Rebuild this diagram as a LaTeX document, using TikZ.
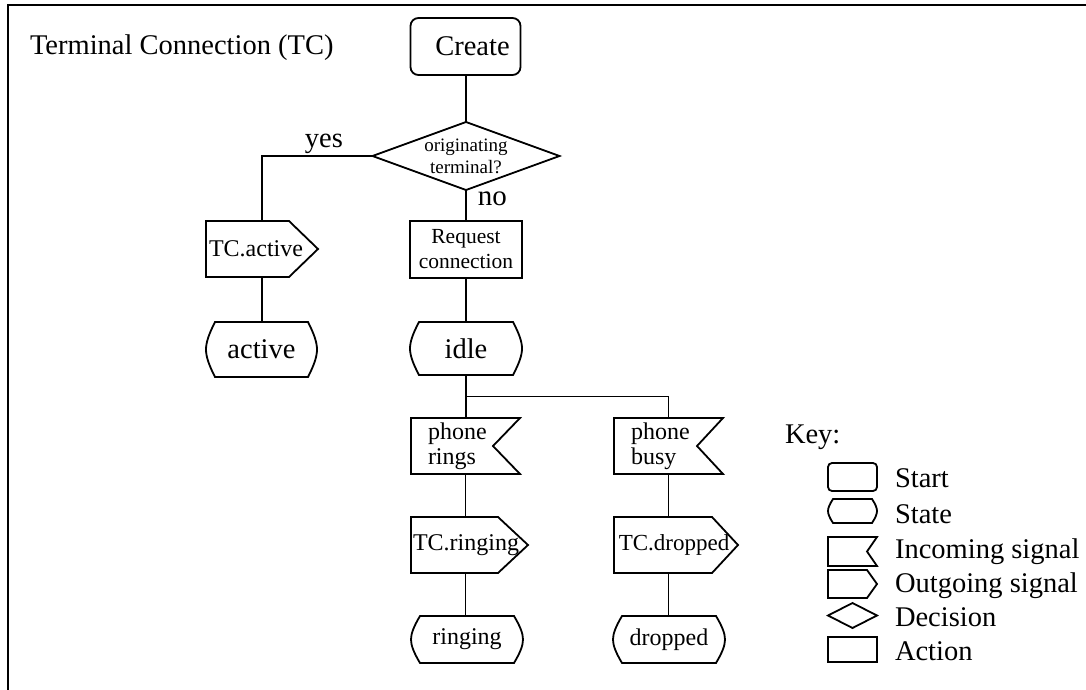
\documentclass[tikz,border=0pt]{standalone}
\usepackage{fontspec}
\setmainfont{Liberation Serif}
\usetikzlibrary{calc}
\tikzset{
  shapeline/.style={line width=1.8pt, line join=miter},
  conn/.style={line width=1.8pt},
  shapebase/.style={inner sep=0pt, outer sep=0pt, align=center},
  txt/.style={inner sep=0pt, outer sep=0pt},
  fbig/.style={font=\fontsize{28.5}{30}\selectfont},
  fmid/.style={font=\fontsize{24}{25}\selectfont},
  fsmall/.style={font=\fontsize{21.5}{25}\selectfont},
  ftiny/.style={font=\fontsize{19}{22}\selectfont},
  startbox/.style={shapebase, draw, shapeline, rounded corners=#1},
  actionbox/.style={shapebase, draw, shapeline},
  decision/.style={shapebase, append after command={\pgfextra{\begin{pgfinterruptpath}
    \draw[shapeline] (\tikzlastnode.north) -- (\tikzlastnode.east) -- (\tikzlastnode.south) -- (\tikzlastnode.west) -- cycle;
    \end{pgfinterruptpath}}}},
  outsig/.style={shapebase, append after command={\pgfextra{\begin{pgfinterruptpath}
    \draw[shapeline] (\tikzlastnode.north west) -- ([xshift=-#1]\tikzlastnode.north east) -- (\tikzlastnode.east) -- ([xshift=-#1]\tikzlastnode.south east) -- (\tikzlastnode.south west) -- cycle;
    \end{pgfinterruptpath}}}},
  insig/.style={shapebase, append after command={\pgfextra{\begin{pgfinterruptpath}
    \draw[shapeline] (\tikzlastnode.north west) -- (\tikzlastnode.north east) -- ([xshift=-#1]\tikzlastnode.east) -- (\tikzlastnode.south east) -- (\tikzlastnode.south west) -- cycle;
    \end{pgfinterruptpath}}}},
  statebox/.style={shapebase, append after command={\pgfextra{\begin{pgfinterruptpath}
    \draw[shapeline] ([xshift=#1]\tikzlastnode.north west) -- ([xshift=-#1]\tikzlastnode.north east)
      .. controls ($(\tikzlastnode.north east)!0.45!(\tikzlastnode.east)+(-0.3*#1,0pt)$) and ($(\tikzlastnode.north east)!0.75!(\tikzlastnode.east)$) .. (\tikzlastnode.east)
      .. controls ($(\tikzlastnode.south east)!0.75!(\tikzlastnode.east)$) and ($(\tikzlastnode.south east)!0.45!(\tikzlastnode.east)+(-0.3*#1,0pt)$) .. ([xshift=-#1]\tikzlastnode.south east)
      -- ([xshift=#1]\tikzlastnode.south west)
      .. controls ($(\tikzlastnode.south west)!0.45!(\tikzlastnode.west)+(0.3*#1,0pt)$) and ($(\tikzlastnode.south west)!0.75!(\tikzlastnode.west)$) .. (\tikzlastnode.west)
      .. controls ($(\tikzlastnode.north west)!0.75!(\tikzlastnode.west)$) and ($(\tikzlastnode.north west)!0.45!(\tikzlastnode.west)+(0.3*#1,0pt)$) .. ([xshift=#1]\tikzlastnode.north west) -- cycle;
    \end{pgfinterruptpath}}}},
}
\begin{document}
\begin{tikzpicture}[x=1pt,y=-1pt]
\useasboundingbox (0,0) rectangle (1086,690);
% frame
\coordinate (fbl) at (8,690);
\coordinate (ftl) at (8,5);
\coordinate (ftr) at (1086,5);
\draw[line width=2.2pt] (fbl) -- (ftl) -- (ftr);

\node[txt, fbig, anchor=base west] (title) at (30,55) {Terminal Connection (TC)};

% main column
\node[startbox=8pt, fbig, minimum width=110pt, minimum height=57pt] (create) at (465.5,46.5) {\hspace*{14pt}Create};
\node[decision, ftiny, minimum width=187pt, minimum height=68pt] (dec) at (466,156) {originating\\terminal?};
\node[actionbox, fsmall, minimum width=112pt, minimum height=57pt] (req) at (466,249.5) {Request\\connection};
\node[statebox=9pt, fbig, minimum width=112pt, minimum height=53pt] (idle) at (466,348.5) {idle};

% left column
\node[outsig=29pt, fmid, minimum width=112pt, minimum height=56pt] (tcact) at (262,249) {TC.active\hspace*{12pt}};
\node[statebox=9pt, fbig, minimum width=111pt, minimum height=55pt] (active) at (261.5,349.5) {active};

% lower branches
\node[insig=27pt, fmid, align=left, text width=75pt, minimum width=109pt, minimum height=56pt] (prings) at (465.5,446) {phone\\rings};
\node[insig=26pt, fmid, align=left, text width=75pt, minimum width=109pt, minimum height=56pt] (pbusy) at (668.5,446) {phone\\busy};
\node[outsig=30pt, fmid, minimum width=117pt, minimum height=56pt] (tcring) at (469.5,545) {TC.ringing\hspace*{7pt}};
\node[outsig=26pt, font=\fontsize{23}{25}\selectfont, minimum width=124pt, minimum height=56pt] (tcdrop) at (676,545) {TC.dropped\hspace*{4pt}};
\node[statebox=9pt, fmid, minimum width=112pt, minimum height=47pt] (ringing) at (467,639.5) {ringing};
\node[statebox=9pt, fmid, minimum width=112pt, minimum height=47pt] (dropped) at (669,639.5) {dropped};

% connectors
\draw[conn] (dec.north |- create.south) -- (dec.north);
\draw[conn] (dec.south) -- node[pos=0, anchor=north west, xshift=10pt, inner sep=1pt, font=\fontsize{29}{30}\selectfont] (nolbl) {no} (req.north);
\draw[conn] (dec.west) -| node[pos=0.22, above, inner sep=1pt, fbig] (yeslbl) {yes} (tcact.north);
\draw[conn] (tcact.south) -- (tcact.south |- active.north);
\draw[conn] (req.south) -- (idle.north);
\draw[conn] (idle.south) -- (idle.south |- prings.north);
\coordinate (j) at ($(idle.south)!0.5!(idle.south |- prings.north)$);
\draw[conn] (j) -| (pbusy.north);
\draw[conn] (prings.south) -- (prings.south |- tcring.north);
\draw[conn] (prings.south |- tcring.south) -- (prings.south |- ringing.north);
\draw[conn] (pbusy.south) -- (pbusy.south |- tcdrop.north);
\draw[conn] (pbusy.south |- tcdrop.south) -- (pbusy.south |- dropped.north);

% key
\node[txt, fbig, anchor=base west] (key) at (785,443) {Key:};
\node[startbox=4pt, minimum width=49pt, minimum height=28pt] (kstart) at (852.5,477) {};
\node[statebox=5pt, minimum width=49pt, minimum height=24pt] (kstate) at (852.5,511) {};
\node[insig=10pt, minimum width=49pt, minimum height=29pt] (kin) at (852.5,551.5) {};
\node[outsig=10pt, minimum width=49pt, minimum height=28pt] (kout) at (852.5,584) {};
\node[decision, minimum width=49pt, minimum height=25pt] (kdec) at (852.5,615.5) {};
\node[actionbox, minimum width=49pt, minimum height=25pt] (kact) at (852.5,649.5) {};
\node[txt, fbig, anchor=base west] (lstart) at (895,487) {Start};
\node[txt, fbig, anchor=base west] (lstate) at (895,523) {State};
\node[txt, fbig, anchor=base west] (lin) at (895,558) {Incoming signal};
\node[txt, fbig, anchor=base west] (lout) at (895,592) {Outgoing signal};
\node[txt, fbig, anchor=base west] (ldec) at (895,626) {Decision};
\node[txt, fbig, anchor=base west] (lact) at (895,660) {Action};
\end{tikzpicture}
\end{document}
